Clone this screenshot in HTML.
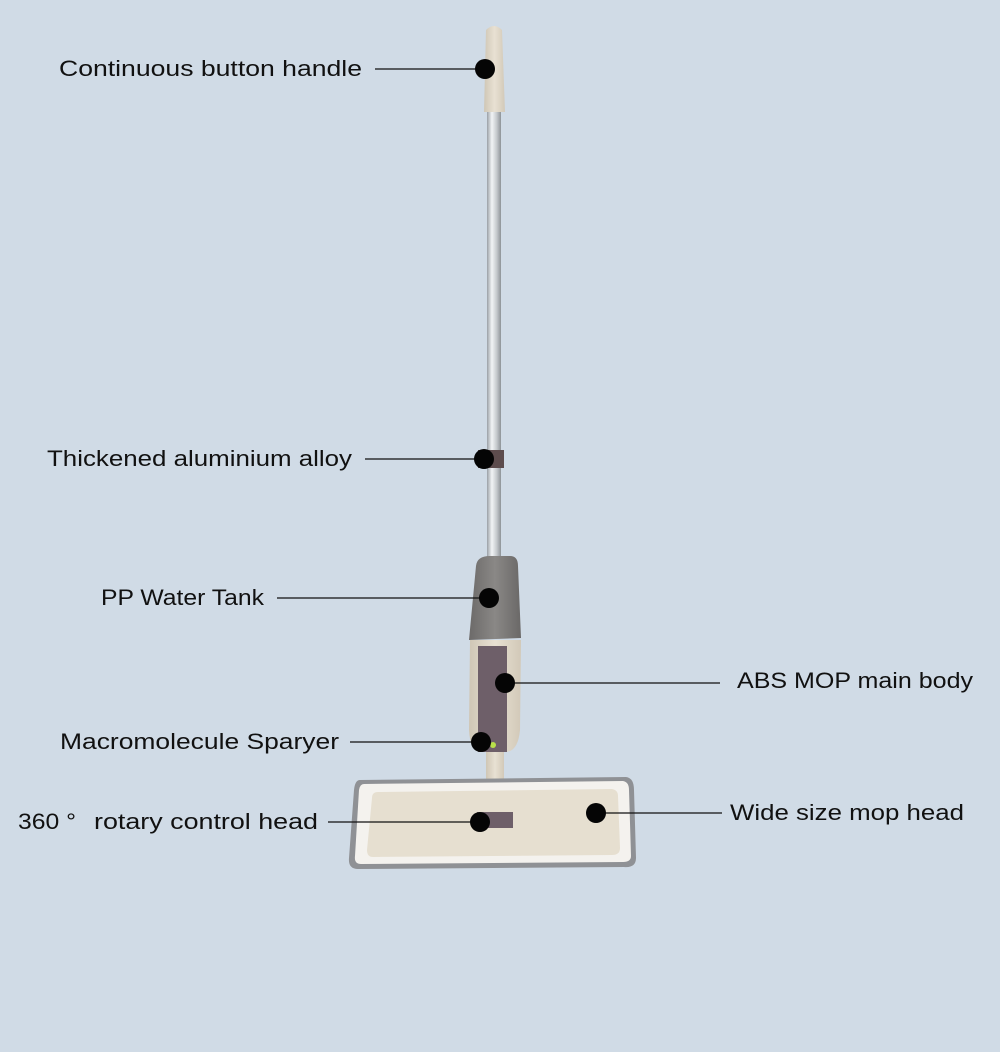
<!DOCTYPE html>
<html><head><meta charset="utf-8"><style>
html,body{margin:0;padding:0;background:#d0dbe6;}
svg{display:block}
text{font-family:"Liberation Sans",sans-serif;font-size:22px;fill:#111;}
</style></head><body>
<svg width="1000" height="1052" viewBox="0 0 1000 1052" xmlns="http://www.w3.org/2000/svg">
<defs>
<linearGradient id="pole" x1="0" x2="1" y1="0" y2="0">
<stop offset="0" stop-color="#9aa0a6"/><stop offset="0.35" stop-color="#f2f4f6"/><stop offset="0.7" stop-color="#c4c8cc"/><stop offset="1" stop-color="#8e9398"/>
</linearGradient>
<linearGradient id="tank" x1="0" x2="1" y1="0" y2="0">
<stop offset="0" stop-color="#6c6a69"/><stop offset="0.5" stop-color="#8a8886"/><stop offset="1" stop-color="#6a6867"/>
</linearGradient>
<linearGradient id="beige" x1="0" x2="1" y1="0" y2="0">
<stop offset="0" stop-color="#cfc6b5"/><stop offset="0.5" stop-color="#e8e1d3"/><stop offset="1" stop-color="#d2c9b8"/>
</linearGradient>
</defs>
<rect width="1000" height="1052" fill="#d0dbe6"/>
<rect x="487" y="110" width="14" height="450" fill="url(#pole)"/>
<path d="M486 30 Q494 22 502 30 L505 112 L484 112 Z" fill="url(#beige)"/>
<rect x="478" y="450" width="26" height="18" fill="#5d4c4d"/>
<path d="M470 640 L521 640 L520 730 Q518 752 505 752 L482 752 Q470 752 469 730 Z" fill="url(#beige)"/>
<rect x="478" y="646" width="29" height="106" fill="#6e5f69"/>
<circle cx="493" cy="745" r="3" fill="#b8e04a"/>
<path d="M476 566 Q477 556 490 556 L510 556 Q518 556 518 566 L521 638 L469 640 Z" fill="url(#tank)"/>
<rect x="486" y="752" width="18" height="62" fill="url(#beige)"/>
<path d="M360 780 L626 777 Q634 778 634 790 L636 858 Q636 868 624 867 L358 869 Q348 869 349 858 L354 790 Q355 780 360 780 Z" fill="#8f9195"/>
<path d="M364 784 L623 781 Q629 782 629 790 L631 856 Q631 862 623 862 L361 864 Q354 864 355 856 L359 790 Q360 784 364 784 Z" fill="#f4f2ee"/>
<path d="M378 792 L612 789 Q618 790 618 796 L620 848 Q620 855 612 855 L373 857 Q367 857 367 850 L372 798 Q372 792 378 792 Z" fill="#e6dfd0"/>
<rect x="477" y="812" width="36" height="16" fill="#6e5f69"/>
<g stroke="#111" stroke-width="1.3">
<line x1="375" y1="69" x2="485" y2="69"/>
<line x1="365" y1="459" x2="484" y2="459"/>
<line x1="277" y1="598" x2="489" y2="598"/>
<line x1="505" y1="683" x2="720" y2="683"/>
<line x1="350" y1="742" x2="481" y2="742"/>
<line x1="328" y1="822" x2="480" y2="822"/>
<line x1="596" y1="813" x2="722" y2="813"/>
</g>
<g fill="#050505">
<circle cx="485" cy="69" r="10"/>
<circle cx="484" cy="459" r="10"/>
<circle cx="489" cy="598" r="10"/>
<circle cx="505" cy="683" r="10"/>
<circle cx="481" cy="742" r="10"/>
<circle cx="480" cy="822" r="10"/>
<circle cx="596" cy="813" r="10"/>
</g>
<text x="59" y="76" textLength="303" lengthAdjust="spacingAndGlyphs">Continuous button handle</text>
<text x="47" y="466" textLength="305" lengthAdjust="spacingAndGlyphs">Thickened aluminium alloy</text>
<text x="101" y="605" textLength="163" lengthAdjust="spacingAndGlyphs">PP Water Tank</text>
<text x="737" y="688" textLength="236" lengthAdjust="spacingAndGlyphs">ABS MOP main body</text>
<text x="60" y="749" textLength="279" lengthAdjust="spacingAndGlyphs">Macromolecule Sparyer</text>
<text x="18" y="829" textLength="58" lengthAdjust="spacingAndGlyphs">360 °</text>
<text x="94" y="829" textLength="224" lengthAdjust="spacingAndGlyphs">rotary control head</text>
<text x="730" y="820" textLength="234" lengthAdjust="spacingAndGlyphs">Wide size mop head</text>
</svg>
</body></html>
